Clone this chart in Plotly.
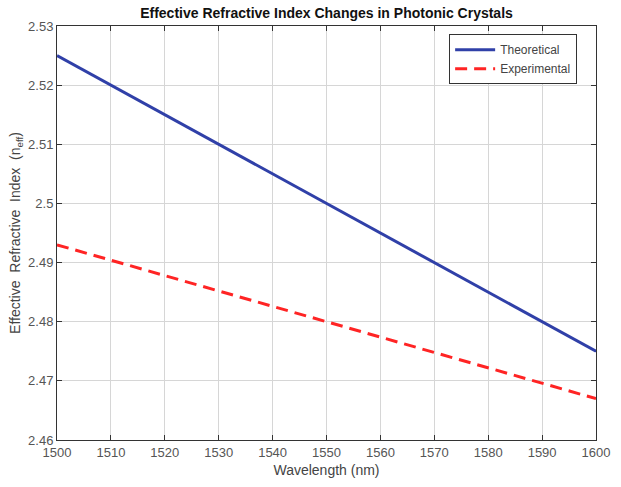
import plotly.graph_objects as go

wavelength = [1500, 1510, 1520, 1530, 1540, 1550, 1560, 1570, 1580, 1590, 1600]
theoretical = [2.525, 2.520, 2.515, 2.510, 2.505, 2.500, 2.495, 2.490, 2.485, 2.480, 2.475]
experimental = [2.4930, 2.4904, 2.4878, 2.4852, 2.4826, 2.4800, 2.4774, 2.4748, 2.4722, 2.4696, 2.4670]

x_ticks = [1500, 1510, 1520, 1530, 1540, 1550, 1560, 1570, 1580, 1590, 1600]
y_ticks = [2.46, 2.47, 2.48, 2.49, 2.50, 2.51, 2.52, 2.53]
y_tick_labels = ["2.46", "2.47", "2.48", "2.49", "2.5", "2.51", "2.52", "2.53"]

fig = go.Figure()
fig.add_trace(go.Scatter(x=wavelength, y=theoretical, mode="lines", name="Theoretical",
                         line=dict(color="#3040A8", width=3)))
fig.add_trace(go.Scatter(x=wavelength, y=experimental, mode="lines", name="Experimental",
                         line=dict(color="#FF2424", width=3, dash="12px,7px")))

axis_common = dict(showline=True, linecolor="#333333", linewidth=1, mirror="ticks",
                   ticks="inside", ticklen=5, tickcolor="#333333",
                   showgrid=True, gridcolor="#D6D6D6", gridwidth=1, zeroline=False,
                   tickfont=dict(family="Liberation Sans, Arial", size=13, color="#555555"))

fig.update_xaxes(range=[1500, 1600], tickvals=x_ticks,
                 title=dict(text="Wavelength (nm)", font=dict(family="Liberation Sans, Arial", size=14, color="#444444"), standoff=6),
                 **axis_common)
fig.update_yaxes(range=[2.46, 2.53], tickvals=y_ticks, ticktext=y_tick_labels,
                 title=dict(text="Effective  Refractive  Index  (n<sub>eff</sub>)", font=dict(family="Liberation Sans, Arial", size=14, color="#444444"), standoff=4),
                 **axis_common)

fig.update_layout(
    width=621, height=487,
    paper_bgcolor="white", plot_bgcolor="white",
    margin=dict(l=57, r=25, t=26, b=47),
    title=dict(text="<b>Effective Refractive Index Changes in Photonic Crystals</b>",
               x=(57 + 596) / 2 / 621, xanchor="center", y=1 - 13 / 487, yanchor="middle",
               font=dict(family="Liberation Sans, Arial", size=14, color="#111111")),
    legend=dict(x=0.965, y=0.98, xanchor="right", yanchor="top",
                bgcolor="white", bordercolor="#333333", borderwidth=1,
                font=dict(family="Liberation Sans, Arial", size=12, color="#444444"),
                tracegroupgap=0, itemwidth=40),
    showlegend=True,
)

fig.write_html("out.html")
